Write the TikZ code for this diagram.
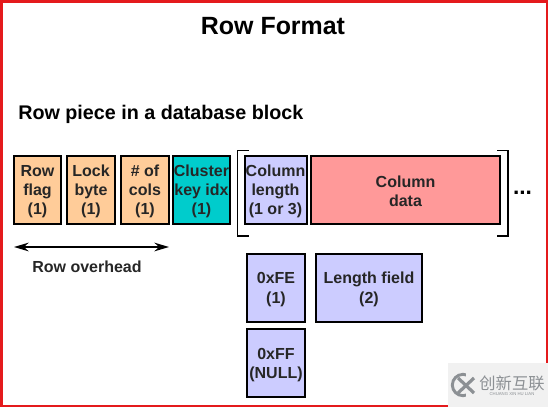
\documentclass[tikz,border=0pt]{standalone}
\usepackage{fontspec}
\setmainfont{Liberation Sans}
\newfontfamily\cjk{Noto Sans CJK SC}
\usetikzlibrary{arrows.meta}
\definecolor{overheadfill}{HTML}{FFCC99}
\definecolor{clusterfill}{HTML}{00CCCC}
\definecolor{lengthfill}{HTML}{CCCCFF}
\definecolor{datafill}{HTML}{FF9999}
\definecolor{frame}{HTML}{E41A1C}
\definecolor{markgrey}{HTML}{F1F1F1}
\definecolor{markink}{HTML}{8C9094}
\newcommand{\droptext}{\rule{0pt}{11.6pt}}
\tikzset{
	field/.style={draw=black, line width=1.5pt, align=center, inner sep=0pt, font=\bfseries\fontsize{12}{14.4}\selectfont, text=black!85},
	heading/.style={inner sep=0pt, font=\bfseries\fontsize{18.7}{22}\selectfont},
	subheading/.style={inner sep=0pt, anchor=west, font=\bfseries\fontsize{14.8}{18}\selectfont},
	bracket/.style={line width=1.3pt},
}
\begin{document}
\begin{tikzpicture}[x=0.75pt, y=-0.75pt]
	\useasboundingbox (0,0) rectangle (548,407);
	\fill[markgrey] (448,363) rectangle (548,407);
	\fill[frame] (0,0) rectangle (548,2.5);
	\fill[frame] (0,0) rectangle (2.5,407);
	\fill[frame] (545.5,0) rectangle (548,363);
	\fill[frame] (0,404.5) rectangle (448,407);
	\node[heading] (title) at (273,26) {Row Format};
	\node[subheading] (piece) at (18,114) {Row piece in a database block};
	\node[field, fill=overheadfill, minimum width=35pt, minimum height=51pt] (flag) at (37.5,189.5) {\droptext Row\\flag\\(1)};
	\node[field, fill=overheadfill, minimum width=36pt, minimum height=51pt] (lock) at (91,189.5) {\droptext Lock\\byte\\(1)};
	\node[field, fill=overheadfill, minimum width=36pt, minimum height=51pt] (cols) at (145,189.5) {\droptext\# of\\cols\\(1)};
	\node[field, fill=clusterfill, minimum width=43pt, minimum height=51pt] (cluster) at (201.5,189.5) {\droptext Cluster\\key idx\\(1)};
	\node[field, fill=lengthfill, minimum width=46.5pt, minimum height=51pt] (length) at (275.5,189.5) {\droptext Column\\length\\(1 or 3)};
	\node[field, fill=datafill, minimum width=142pt, minimum height=51pt] (data) at (405.5,189.5) {\droptext Column\\data};
	\node[inner sep=0pt, anchor=base, font=\bfseries\fontsize{17}{20}\selectfont] (dots) at (522.5,194) {...};
	\node[field, fill=lengthfill, minimum width=44pt, minimum height=51pt] (fe) at (276,287.5) {\droptext 0xFE\\(1)};
	\node[field, fill=lengthfill, minimum width=80pt, minimum height=51pt] (lenfield) at (369,287.5) {\droptext Length field\\(2)};
	\node[field, fill=lengthfill, minimum width=44pt, minimum height=51pt] (ff) at (276,363) {\droptext 0xFF\\(NULL)};
	\draw[bracket] (249,150.5)--(237.5,150.5)--(237.5,236)--(249,236);
	\draw[bracket] (497,150.5)--(508,150.5)--(508,236)--(497,236);
	\coordinate (overheadl) at (14,247);
	\coordinate (overheadr) at (169,247);
	\draw[line width=1.1pt, {Stealth[length=11pt,width=6.5pt]}-{Stealth[length=11pt,width=6.5pt]}] (overheadl)--(overheadr);
	\node[inner sep=0pt, font=\bfseries\fontsize{12}{14.4}\selectfont, text=black!85] (overhead) at (87,266.5) {Row overhead};
	\draw[markink, line width=2.2pt] (463,385) circle (8pt);
	\fill[markgrey] (466,373) rectangle (477,397);
	\draw[markink, line width=2.4pt] (458,378)--(474,393);
	\draw[markink, line width=2.4pt] (458,393)--(474,378);
	\node[inner sep=0pt, text=markink, font=\cjk\fontsize{12.2}{13}\selectfont] (brand) at (512,383) {创新互联};
	\node[inner sep=0pt, text=markink, font=\fontsize{3.2}{4}\selectfont] (brandsub) at (512,394) {CHUANG XIN HU LIAN};
\end{tikzpicture}
\end{document}
